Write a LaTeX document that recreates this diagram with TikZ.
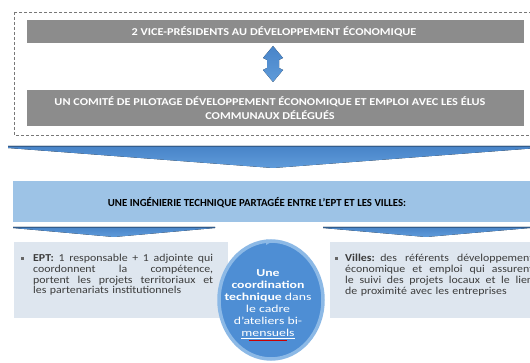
\documentclass[tikz,border=0pt]{standalone}
\usepackage{fontspec}
\setmainfont{Carlito}
\newfontfamily\barfont{Carlito}[FakeStretch=1.17]
\newfontfamily\descfont{Carlito}[FakeStretch=1.12]
\newfontfamily\circfont{Carlito}[FakeStretch=1.3]
\usepackage{xcolor}
\definecolor{barGray}{RGB}{140,140,140}
\definecolor{dashGray}{RGB}{120,120,120}
\definecolor{arrBlue}{RGB}{72,132,200}
\definecolor{arrBlueLight}{RGB}{95,155,218}
\definecolor{lightBar}{RGB}{157,195,230}
\definecolor{boxFill}{RGB}{222,230,239}
\definecolor{circFill}{RGB}{78,142,212}
\definecolor{circRing}{RGB}{140,185,230}
\definecolor{txtGray}{RGB}{60,60,60}
\newcommand{\jline}[1]{\hbox to \hsize{\spaceskip=0.25em plus 1fil minus 0.12em\relax #1}}
\newcommand{\lline}[1]{\hbox to \hsize{#1\hfil}}
\tikzset{
  graybar/.style={fill=barGray, draw=none},
  bartext/.style={text=white, font=\barfont\fontsize{10.5}{14}\selectfont\bfseries, align=center, inner sep=0pt},
  chev/.style={top color=arrBlue, bottom color=arrBlueLight, draw=none},
  descbox/.style={fill=boxFill, draw=none},
  desctext/.style={text=txtGray, font=\descfont\fontsize{10.6}{10.8}\selectfont, inner sep=0pt, anchor=north west},
  bulletbox/.style={fill=gray!80!black, inner sep=0pt, minimum size=3pt}
}
\begin{document}
\begin{tikzpicture}[x=1pt,y=-1pt]
\useasboundingbox (0,0) rectangle (530,363);
\clip (0,0) rectangle (530,363);
\fill[white] (0,0) rectangle (530,363);

% dashed frame
\draw[dashGray, dashed, line width=0.6pt, dash pattern=on 3pt off 2pt] (14,12) rectangle (540,135);

% gray bars
\node[graybar, minimum width=497pt, minimum height=23pt, anchor=north west, inner sep=0pt] (vp) at (27,20) {};
\node[bartext] (vpt) at (274,32) {2 VICE-PRÉSIDENTS AU DÉVELOPPEMENT ÉCONOMIQUE};
\node[graybar, minimum width=497pt, minimum height=36pt, anchor=north west, inner sep=0pt] (cp) at (27,90) {};
\node[bartext] (cpt) at (270,108) {UN COMITÉ DE PILOTAGE DÉVELOPPEMENT ÉCONOMIQUE ET EMPLOI AVEC LES ÉLUS\\COMMUNAUX DÉLÉGUÉS};

% double arrow
\fill[top color=arrBlue, bottom color=arrBlueLight]
  (273,46) -- (283,58) -- (279,60) -- (279,68) -- (283,70) -- (273,82)
  -- (263,70) -- (267,68) -- (267,60) -- (263,58) -- cycle;

% big chevron
\fill[chev] (8,146) -- (538,146) -- (538,148) -- (273,168) -- (8,148) -- cycle;
\draw[arrBlue!70!black, line width=0.6pt] (8,146) -- (538,146);

% light blue bar
\node[fill=lightBar, minimum width=520pt, minimum height=41pt, anchor=north west, inner sep=0pt] (ing) at (13,181) {};
\node[font=\fontsize{10.8}{12}\selectfont\bfseries, text=black, inner sep=0pt] (ingt) at (257,203) {UNE INGÉNIERIE TECHNIQUE PARTAGÉE ENTRE L’EPT ET LES VILLES:};

% small chevrons
\fill[chev] (13,227) -- (215,227) -- (215,228) -- (114,237) -- (13,228) -- cycle;
\draw[arrBlue!70!black, line width=0.5pt] (13,227) -- (215,227);
\fill[chev] (323,227) -- (530,227) -- (530,228) -- (426,237) -- (323,228) -- cycle;
\draw[arrBlue!70!black, line width=0.5pt] (323,227) -- (530,227);

% left description box
\node[descbox, minimum width=214pt, minimum height=76pt, anchor=north west, inner sep=0pt] (ept) at (14,242) {};
\node[bulletbox] (eptb) at (22.5,259) {};
\node[desctext, text width=180pt] (eptt) at (33,254) {\vbox{\jline{\textbf{EPT:} 1 responsable + 1 adjointe qui}\jline{coordonnent la compétence,}\jline{portent les projets territoriaux et}\lline{les partenariats institutionnels}}};

% right description box
\node[descbox, minimum width=210pt, minimum height=76pt, anchor=north west, inner sep=0pt] (vil) at (330,242) {};
\node[bulletbox] (vilb) at (336.5,259) {};
\node[desctext, text width=188pt] (vilt) at (345,254) {\vbox{\jline{\textbf{Villes:} des référents développement}\jline{économique et emploi qui assurent}\jline{le suivi des projets locaux et le lien}\lline{de proximité avec les entreprises}}};

% coordination circle
\draw[circRing, line width=3.5pt, fill=circFill] (271,300) ellipse [x radius=52pt, y radius=59pt];
\fill[circRing] (266,239.5) -- (273,241) -- (266,245) -- cycle;
\node[text=white, font=\circfont\fontsize{10.6}{12}\selectfont, align=center, inner sep=0pt] (coord) at (268,304) {\textbf{Une}\\\textbf{coordination}\\\textbf{technique} dans\\le cadre\\d’ateliers bi-\\\underline{mensuels}};
\draw[red!80!black, line width=0.5pt] ([xshift=-19pt,yshift=-1.5pt]coord.south) -- ([xshift=19pt,yshift=-1.5pt]coord.south);
\end{tikzpicture}
\end{document}
